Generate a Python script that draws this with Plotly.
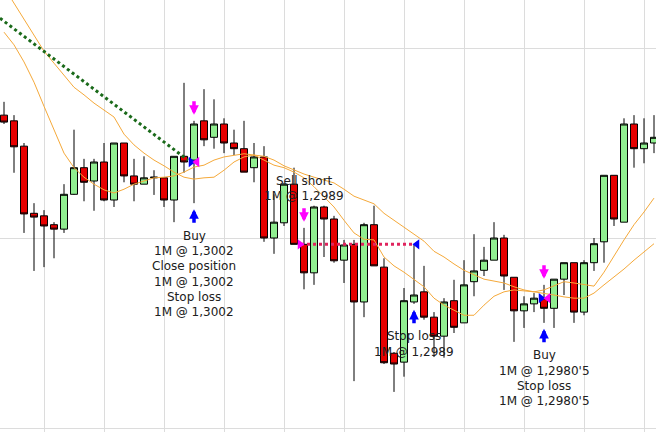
import plotly.graph_objects as go

# ---------------- data ----------------
idx = list(range(66))

open_ = [1.30094, 1.30085, 1.30045, 1.29939, 1.29935, 1.29921, 1.29914, 1.29969, 1.30011, 1.29990,
         1.30020, 1.29960, 1.30050, 1.29998, 1.29985, 1.29995, 1.29995, 1.29960, 1.30029, 1.30023,
         1.30085, 1.30059, 1.30080, 1.30050, 1.30041, 1.30011, 1.30028, 1.29900, 1.29924, 1.29985,
         1.29890, 1.29845, 1.29949, 1.29930, 1.29865, 1.29890, 1.29799, 1.29921, 1.29854, 1.29718,
         1.29704, 1.29799, 1.29815, 1.29775, 1.29745, 1.29801, 1.29766, 1.29831, 1.29849, 1.29865,
         1.29900, 1.29838, 1.29785, 1.29796, 1.29804, 1.29789, 1.29835, 1.29861, 1.29783, 1.29861,
         1.29894, 1.29999, 1.29925, 1.30080, 1.30041, 1.30050]

high = [1.30115, 1.30094, 1.30050, 1.29955, 1.29944, 1.29925, 1.29985, 1.30071, 1.30025, 1.30025,
        1.30050, 1.30050, 1.30050, 1.30025, 1.30029, 1.30007, 1.29995, 1.30029, 1.30145, 1.30085,
        1.30135, 1.30119, 1.30089, 1.30071, 1.30085, 1.30050, 1.30045, 1.29969, 1.29987, 1.30011,
        1.29916, 1.29951, 1.29951, 1.29935, 1.29897, 1.29897, 1.29924, 1.29951, 1.29868, 1.29720,
        1.29821, 1.29890, 1.29856, 1.29783, 1.29805, 1.29834, 1.29865, 1.29906, 1.29886, 1.29925,
        1.29905, 1.29838, 1.29808, 1.29813, 1.29826, 1.29835, 1.29861, 1.29861, 1.29865, 1.29900,
        1.29999, 1.29999, 1.30089, 1.30094, 1.30089, 1.30094]

low = [1.30080, 1.30003, 1.29908, 1.29848, 1.29854, 1.29868, 1.29908, 1.29968, 1.29958, 1.29943,
       1.29958, 1.29949, 1.29988, 1.29958, 1.29985, 1.29968, 1.29949, 1.29925, 1.30003, 1.29955,
       1.30045, 1.30041, 1.30034, 1.30031, 1.30004, 1.29988, 1.29894, 1.29875, 1.29919, 1.29890,
       1.29819, 1.29826, 1.29870, 1.29861, 1.29829, 1.29674, 1.29775, 1.29856, 1.29701, 1.29657,
       1.29681, 1.29796, 1.29771, 1.29712, 1.29711, 1.29750, 1.29766, 1.29808, 1.29840, 1.29865,
       1.29818, 1.29736, 1.29758, 1.29783, 1.29766, 1.29758, 1.29810, 1.29766, 1.29778, 1.29848,
       1.29861, 1.29919, 1.29925, 1.30011, 1.30018, 1.30034]

close = [1.30083, 1.30044, 1.29938, 1.29933, 1.29919, 1.29914, 1.29969, 1.30011, 1.29988, 1.30020,
         1.29960, 1.30050, 1.29998, 1.29985, 1.29995, 1.29996, 1.29960, 1.30029, 1.30020, 1.30080,
         1.30055, 1.30080, 1.30050, 1.30041, 1.30004, 1.30028, 1.29900, 1.29925, 1.29985, 1.29890,
         1.29845, 1.29949, 1.29930, 1.29864, 1.29889, 1.29799, 1.29921, 1.29856, 1.29703, 1.29701,
         1.29801, 1.29810, 1.29775, 1.29745, 1.29799, 1.29759, 1.29826, 1.29848, 1.29865, 1.29900,
         1.29840, 1.29785, 1.29796, 1.29805, 1.29789, 1.29835, 1.29861, 1.29783, 1.29861, 1.29891,
         1.29999, 1.29930, 1.30080, 1.30041, 1.30050, 1.30059]

ma_fast = [1.30225, 1.30205, 1.30178, 1.30146, 1.30108, 1.30071, 1.30034, 1.30011, 1.29996, 1.29985,
           1.29976, 1.29971, 1.29977, 1.29985, 1.29990, 1.29995, 1.29996, 1.29998, 1.30004, 1.30012,
           1.30015, 1.30023, 1.30028, 1.30031, 1.30033, 1.30031, 1.30023, 1.30015, 1.30011, 1.30004,
           1.29995, 1.29981, 1.29965, 1.29949, 1.29928, 1.29908, 1.29898, 1.29897, 1.29870, 1.29856,
           1.29846, 1.29835, 1.29823, 1.29805, 1.29794, 1.29786, 1.29778, 1.29778, 1.29794, 1.29808,
           1.29815, 1.29818, 1.29816, 1.29815, 1.29818, 1.29824, 1.29831, 1.29829, 1.29827, 1.29824,
           1.29846, 1.29872, 1.29897, 1.29921, 1.29941, 1.29963]

ma_slow = [1.30296, 1.30271, 1.30246, 1.30221, 1.30195, 1.30176, 1.30157, 1.30138, 1.30126, 1.30113,
           1.30102, 1.30091, 1.30064, 1.30047, 1.30034, 1.30023, 1.30014, 1.30004, 1.29996, 1.29993,
           1.29995, 1.29996, 1.30007, 1.30020, 1.30028, 1.30031, 1.30029, 1.30023, 1.30014, 1.30007,
           1.30001, 1.29996, 1.29992, 1.29987, 1.29977, 1.29966, 1.29960, 1.29954, 1.29939, 1.29928,
           1.29916, 1.29906, 1.29895, 1.29879, 1.29870, 1.29859, 1.29849, 1.29842, 1.29835, 1.29832,
           1.29829, 1.29823, 1.29818, 1.29815, 1.29813, 1.29810, 1.29807, 1.29805, 1.29805, 1.29813,
           1.29826, 1.29838, 1.29851, 1.29865, 1.29878, 1.29891]

trend_x = [-0.4, 18.4]
trend_y = [1.30247, 1.30023]

# trades
buy_idx = [19, 54]
buy_price = [1.3002, 1.29805]
short_idx = [30]
short_price = [1.2989]
stop_idx = [41]
stop_price = [1.2989]

labels_below = {
    19: ["Buy", "1M @ 1,3002", "Close position", "1M @ 1,3002", "Stop loss", "1M @ 1,3002"],
    41: ["Stop loss", "1M @ 1,2989"],
    54: ["Buy", "1M @ 1,2980'5", "Stop loss", "1M @ 1,2980'5"],
}
labels_above = {
    30: ["Sell short", "1M @ 1,2989"],
}

down_arrow_idx = [19, 30, 54]   # magenta
up_arrow_idx = [19, 41, 54]     # blue

# ---------------- styling ----------------
BLUE = "#0000ff"
MAGENTA = "#ff00ff"
ORANGE = "#f5a93a"
TEXT = "#202020"
FONT = "DejaVu Sans"

fig = go.Figure()

fig.add_trace(go.Candlestick(
    x=idx, open=open_, high=high, low=low, close=close,
    increasing=dict(fillcolor="#90ee90", line=dict(color="#000000", width=1)),
    decreasing=dict(fillcolor="#e60000", line=dict(color="#000000", width=1)),
    whiskerwidth=0, hoverinfo="skip", showlegend=False,
))

fig.add_trace(go.Scatter(x=idx, y=ma_slow, mode="lines",
                         line=dict(color=ORANGE, width=1), hoverinfo="skip"))
fig.add_trace(go.Scatter(x=idx, y=ma_fast, mode="lines",
                         line=dict(color=ORANGE, width=1), hoverinfo="skip"))

fig.add_trace(go.Scatter(x=trend_x, y=trend_y, mode="lines",
                         line=dict(color="#1a6a1a", width=3, dash="dot"), hoverinfo="skip"))

# short -> stop line
fig.add_trace(go.Scatter(x=[short_idx[0] - 0.3, stop_idx[0] + 0.3],
                         y=[short_price[0], stop_price[0]], mode="lines",
                         line=dict(color="#e0245e", width=3, dash="dot"), hoverinfo="skip"))

# entry / exit triangles
tri_r_x = [buy_idx[0] - 0.3, short_idx[0] - 0.4, buy_idx[1] - 0.3]
tri_r_y = [buy_price[0], short_price[0], buy_price[1]]
tri_r_c = [BLUE, MAGENTA, BLUE]
tri_l_x = [buy_idx[0] + 0.3, stop_idx[0] + 0.3, buy_idx[1] + 0.4]
tri_l_y = [buy_price[0], stop_price[0], buy_price[1]]
tri_l_c = [MAGENTA, BLUE, MAGENTA]

fig.add_trace(go.Scatter(x=tri_r_x, y=tri_r_y, mode="markers",
                         marker=dict(symbol="triangle-right", size=9, color=tri_r_c,
                                     line=dict(width=0)), hoverinfo="skip"))
fig.add_trace(go.Scatter(x=tri_l_x, y=tri_l_y, mode="markers",
                         marker=dict(symbol="triangle-left", size=9, color=tri_l_c,
                                     line=dict(width=0)), hoverinfo="skip"))

annotations = []
for k in down_arrow_idx:
    annotations.append(dict(x=k, y=high[k], xref="x", yref="y", text="", showarrow=True,
                            ax=0, ay=-15, yshift=6, arrowhead=2, arrowsize=0.55,
                            arrowwidth=3.5, arrowcolor=MAGENTA))
for k in up_arrow_idx:
    annotations.append(dict(x=k, y=low[k], xref="x", yref="y", text="", showarrow=True,
                            ax=0, ay=15, yshift=-6, arrowhead=2, arrowsize=0.55,
                            arrowwidth=3.5, arrowcolor=BLUE))

LINE_H = 15.3
for k, lines in labels_below.items():
    for i, t in enumerate(lines):
        annotations.append(dict(x=k, y=low[k], xref="x", yref="y", text=t, showarrow=False,
                                yshift=-(32.5 + LINE_H * i), yanchor="middle", xanchor="center",
                                font=dict(family=FONT, size=12, color=TEXT)))
for k, lines in labels_above.items():
    n = len(lines)
    for i, t in enumerate(lines):
        annotations.append(dict(x=k, y=high[k], xref="x", yref="y", text=t, showarrow=False,
                                yshift=(32 + LINE_H * (n - 1 - i)), yanchor="middle", xanchor="center",
                                font=dict(family=FONT, size=12, color=TEXT)))

fig.update_layout(
    width=656, height=432, autosize=False,
    margin=dict(l=0, r=0, t=0, b=0),
    paper_bgcolor="white", plot_bgcolor="white",
    showlegend=False,
    boxgap=0.3, boxgroupgap=0,
    annotations=annotations,
    xaxis=dict(range=[-0.4, 65.2], tickmode="array", tickvals=list(range(4, 66, 6)),
               showticklabels=False, ticks="", showgrid=True, gridcolor="#dcdcdc", gridwidth=1,
               zeroline=False, showline=False, rangeslider=dict(visible=False), fixedrange=True),
    yaxis=dict(range=[1.2959368, 1.3027579], tick0=1.296, dtick=0.003,
               showticklabels=False, ticks="", showgrid=True, gridcolor="#dcdcdc", gridwidth=1,
               zeroline=False, showline=False, fixedrange=True),
)

fig.write_html("out.html", config={"displayModeBar": False, "staticPlot": True},
               post_script="document.body.style.margin='0';document.body.style.padding='0';")
